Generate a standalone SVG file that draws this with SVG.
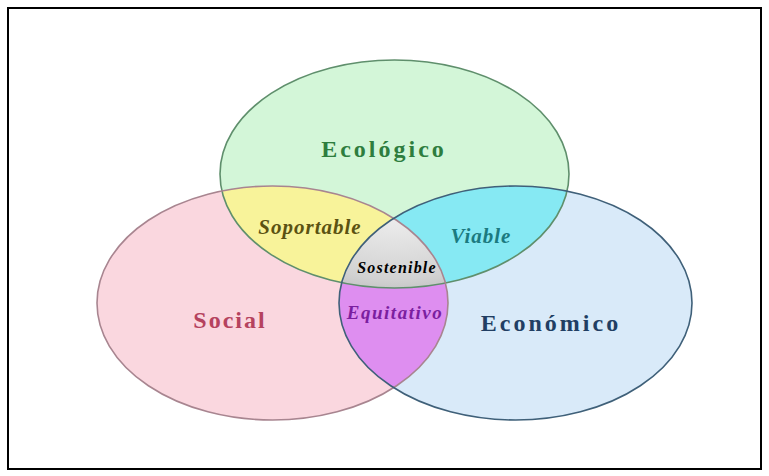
<svg xmlns="http://www.w3.org/2000/svg" width="769" height="476" viewBox="0 0 769 476">
  <defs>
    <clipPath id="clipSoc"><ellipse cx="272.5" cy="303" rx="175.5" ry="117"/></clipPath>
    <clipPath id="clipEcon"><ellipse cx="515.5" cy="303" rx="176.5" ry="117"/></clipPath>
    <radialGradient id="grayGrad" cx="0.5" cy="0.6" r="0.6">
      <stop offset="0" stop-color="#f6f6f6"/>
      <stop offset="0.6" stop-color="#d2d2d2"/>
      <stop offset="1" stop-color="#9c9c9c"/>
    </radialGradient>
    <style>
      .lbl { font-family: "Liberation Serif", "Times New Roman", serif; font-weight: bold; text-anchor: middle; }
      .main { font-size: 24px; }
      .sub { font-style: italic; }
      .edge { fill: none; stroke-width: 1.6; }
    </style>
  </defs>
  <rect x="0" y="0" width="769" height="476" fill="#ffffff"/>
  <rect x="8" y="8" width="753" height="461" fill="none" stroke="#000000" stroke-width="2"/>

  <g id="ecologico">
    <ellipse cx="394.5" cy="174" rx="174.5" ry="114" fill="#d3f6d8"/>
  </g>
  <g id="social">
    <ellipse cx="272.5" cy="303" rx="175.5" ry="117" fill="#fad7df"/>
  </g>
  <g id="economico">
    <ellipse cx="515.5" cy="303" rx="176.5" ry="117" fill="#d9eaf9"/>
  </g>

  <g id="soportable">
    <ellipse cx="394.5" cy="174" rx="174.5" ry="114" fill="#f8f39a" clip-path="url(#clipSoc)"/>
  </g>
  <g id="viable">
    <ellipse cx="394.5" cy="174" rx="174.5" ry="114" fill="#86e9f3" clip-path="url(#clipEcon)"/>
  </g>
  <g id="equitativo">
    <ellipse cx="272.5" cy="303" rx="175.5" ry="117" fill="#de8ef0" clip-path="url(#clipEcon)"/>
  </g>
  <g id="sostenible">
    <g clip-path="url(#clipSoc)">
      <ellipse cx="394.5" cy="174" rx="174.5" ry="114" fill="url(#grayGrad)" clip-path="url(#clipEcon)"/>
    </g>
  </g>

  <g id="outlines">
    <ellipse class="edge" cx="394.5" cy="174" rx="174.5" ry="114" stroke="#5f8f6c"/>
    <ellipse class="edge" cx="272.5" cy="303" rx="175.5" ry="117" stroke="#a88590"/>
    <ellipse class="edge" cx="515.5" cy="303" rx="176.5" ry="117" stroke="#3f6079"/>
  </g>

  <g id="labels">
    <text class="lbl main" x="384" y="157" fill="#2e7d3e" letter-spacing="3">Ecológico</text>
    <text class="lbl main" x="230" y="328" fill="#b5425e" letter-spacing="2">Social</text>
    <text class="lbl main" x="551" y="331" fill="#213e63" letter-spacing="3">Económico</text>
    <text class="lbl sub" x="310" y="234" font-size="21" fill="#5b5212" letter-spacing="1">Soportable</text>
    <text class="lbl sub" x="481" y="243" font-size="21" fill="#1b7a80" letter-spacing="1">Viable</text>
    <text class="lbl sub" x="397" y="273" font-size="16" fill="#000000" letter-spacing="1.2">Sostenible</text>
    <text class="lbl sub" x="395" y="319" font-size="19" fill="#7b1fa0" letter-spacing="1.5">Equitativo</text>
  </g>
</svg>
